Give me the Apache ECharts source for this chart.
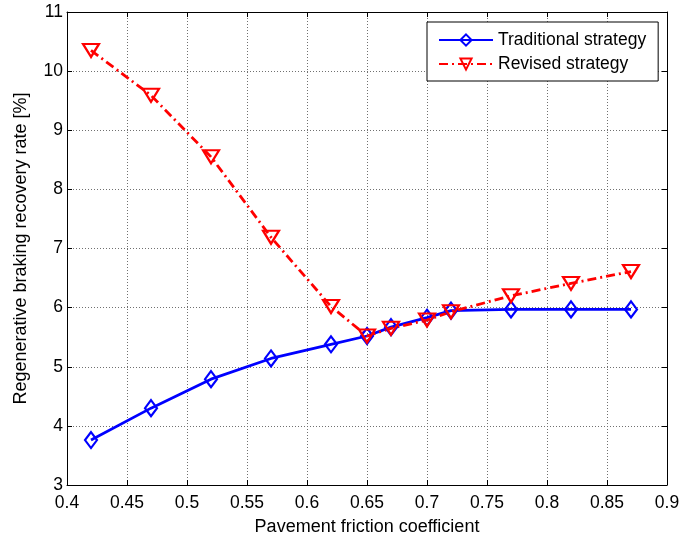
<!DOCTYPE html>
<html>
<head>
<meta charset="utf-8">
<script src="https://cdn.jsdelivr.net/npm/echarts@6/dist/echarts.min.js"></script>
<style>
  html, body { margin: 0; padding: 0; background: #fff; }
  #chart { width: 679px; height: 535px; }
</style>
</head>
<body>
<div id="chart"></div>
<script>
// Pavement friction coefficient samples
const frictionCoef = [0.42, 0.47, 0.52, 0.57, 0.62, 0.65, 0.67, 0.70, 0.72, 0.77, 0.82, 0.87];
// Regenerative braking recovery rate [%]
const traditionalRate = [3.76, 4.30, 4.79, 5.14, 5.38, 5.52, 5.67, 5.83, 5.95, 5.97, 5.97, 5.97];
const revisedRate = [10.35, 9.59, 8.55, 7.19, 6.02, 5.52, 5.65, 5.79, 5.93, 6.20, 6.41, 6.61];
const seriesNames = ['Traditional strategy', 'Revised strategy'];
const xRange = { min: 0.4, max: 0.9, step: 0.05 };
const yRange = { min: 3, max: 11, step: 1 };

const FONT = "'Liberation Sans', Arial, sans-serif";
const chart = echarts.init(document.getElementById('chart'), null, { renderer: 'canvas' });

const gridLine = { show: true, lineStyle: { color: '#707070', type: [1, 2], width: 1 } };
const tickIn = { show: true, inside: true, length: 5, lineStyle: { color: '#000' } };
const axisLine = { show: true, onZero: false, lineStyle: { color: '#000', width: 1 } };

const pairs = ys => frictionCoef.map((x, i) => [x, ys[i]]);

chart.setOption({
  animation: false,
  backgroundColor: '#fff',
  textStyle: { fontFamily: FONT },
  grid: { left: 67, right: 12, top: 12, bottom: 50, containLabel: false, outerBoundsMode: 'none' },
  legend: {
    orient: 'vertical',
    left: 427,
    top: 22,
    padding: [9, 12, 8, 11],
    itemWidth: 54,
    itemHeight: 14,
    itemGap: 6,
    backgroundColor: '#fff',
    borderColor: '#000',
    borderWidth: 1,
    borderRadius: 0,
    textStyle: { fontFamily: FONT, fontSize: 17.5, color: '#000' },
    data: seriesNames
  },
  xAxis: [
    {
      type: 'value', position: 'bottom',
      min: xRange.min, max: xRange.max, interval: xRange.step,
      name: 'Pavement friction coefficient',
      nameLocation: 'middle', nameGap: 33,
      nameTextStyle: { fontFamily: FONT, fontSize: 18, color: '#000' },
      axisLine: axisLine, axisTick: tickIn,
      axisLabel: {
        fontFamily: FONT, fontSize: 17.5, color: '#000', margin: 9,
        formatter: v => String(+v.toFixed(2))
      },
      splitLine: gridLine
    },
    {
      type: 'value', position: 'top',
      min: xRange.min, max: xRange.max, interval: xRange.step,
      axisLine: axisLine, axisTick: tickIn,
      axisLabel: { show: false }, splitLine: { show: false }
    }
  ],
  yAxis: [
    {
      type: 'value', position: 'left',
      min: yRange.min, max: yRange.max, interval: yRange.step,
      name: 'Regenerative braking recovery rate [%]',
      nameLocation: 'middle', nameGap: 37,
      nameTextStyle: { fontFamily: FONT, fontSize: 18, color: '#000' },
      axisLine: axisLine, axisTick: tickIn,
      axisLabel: { fontFamily: FONT, fontSize: 17.5, color: '#000', margin: 4 },
      splitLine: gridLine
    },
    {
      type: 'value', position: 'right',
      min: yRange.min, max: yRange.max, interval: yRange.step,
      axisLine: axisLine, axisTick: tickIn,
      axisLabel: { show: false }, splitLine: { show: false }
    }
  ],
  series: [
    {
      name: seriesNames[0],
      type: 'line',
      xAxisIndex: 0, yAxisIndex: 0,
      data: pairs(traditionalRate),
      symbol: 'diamond',
      symbolSize: [12, 16],
      showAllSymbol: true,
      lineStyle: { color: '#0000ff', width: 2.8, type: 'solid' },
      itemStyle: { color: 'rgba(255,255,255,0)', borderColor: '#0000ff', borderWidth: 2.2 },
      emphasis: { disabled: true }
    },
    {
      name: seriesNames[1],
      type: 'line',
      xAxisIndex: 0, yAxisIndex: 0,
      data: pairs(revisedRate),
      symbol: 'triangle',
      symbolRotate: 180,
      symbolSize: [16, 13],
      showAllSymbol: true,
      lineStyle: { color: '#ff0000', width: 2.8, type: [9, 4, 2, 4] },
      itemStyle: { color: 'rgba(255,255,255,0)', borderColor: '#ff0000', borderWidth: 2.2 },
      emphasis: { disabled: true }
    }
  ]
});
</script>
</body>
</html>
